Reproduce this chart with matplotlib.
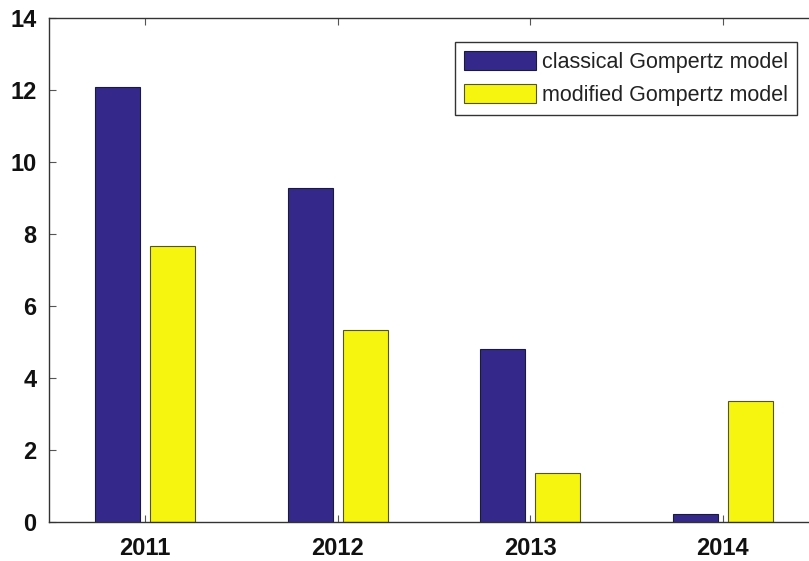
import numpy as np
from matplotlib import pyplot as plt

years = ['2011', '2012', '2013', '2014']
classical = [12.08, 9.28, 4.81, 0.22]
modified = [7.67, 5.33, 1.36, 3.36]
labels = ['classical Gompertz model', 'modified Gompertz model']

W, H = 809, 561
fig = plt.figure(figsize=(W / 100, H / 100), dpi=100)
# axes run past the right edge of the figure, as in the reference
ax = fig.add_axes([49 / W, 1 - 522 / H, 770 / W, 504 / H])

x = np.arange(1, len(years) + 1)
bw = 0.234
off = 0.143
ax.bar(x - off, classical, bw, color='#34298a', edgecolor='#1a1a3a', linewidth=0.8, label=labels[0])
ax.bar(x + off, modified, bw, color='#f5f50f', edgecolor='#555522', linewidth=0.8, label=labels[1])

ax.set_xlim(0.5, 4.5)
ax.set_ylim(0, 14)
ax.set_xticks(x)
ax.set_xticklabels(years)
ax.set_yticks(range(0, 15, 2))

for lab in ax.get_xticklabels() + ax.get_yticklabels():
    lab.set_fontfamily('Liberation Sans')
    lab.set_fontweight('bold')
    lab.set_fontsize(17)
    lab.set_color('#111111')

ax.tick_params(axis='both', direction='in', length=5, width=0.8, color='#555555',
               top=True, right=True)
ax.tick_params(axis='x', pad=11)
ax.tick_params(axis='y', pad=9)
for sp in ax.spines.values():
    sp.set_linewidth(1.0)
    sp.set_color('#333333')

leg = ax.legend(loc='upper right', bbox_to_anchor=(797 / W, 1 - 42 / H),
                bbox_transform=fig.transFigure, borderaxespad=0,
                prop={'family': 'Liberation Sans', 'size': 15.5},
                handlelength=3.35, handleheight=1.0, handletextpad=0.28,
                labelspacing=0.5, borderpad=0.42, fancybox=False,
                framealpha=1, edgecolor='#333333')
leg.get_frame().set_linewidth(1.0)
for t in leg.get_texts():
    t.set_color('#222222')

fig.savefig('out.png', dpi=100)
